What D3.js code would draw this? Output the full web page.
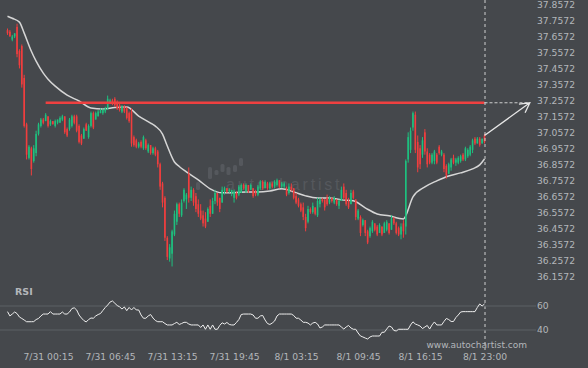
<!DOCTYPE html>
<html>
<head>
<meta charset="utf-8">
<script src="https://cdn.jsdelivr.net/npm/d3@7"></script>
<style>
  body { margin: 0; background: #45484c; }
  text { font-family: "DejaVu Sans", Verdana, sans-serif; }
</style>
</head>
<body>
<script>

// 15 minute candles, 7/30 20:00 .. 8/1 23:00
var opens = [37.70,37.69,37.64,37.66,37.72,37.57,37.60,37.40,37.11,36.90,36.96,36.88,36.93,37.05,37.10,37.14,37.13,37.16,37.11,37.13,
  37.10,37.12,37.12,37.14,37.16,37.08,37.08,37.10,37.16,37.16,37.10,37.04,37.02,37.11,37.03,37.10,37.18,37.14,37.16,37.18,
  37.18,37.19,37.21,37.24,37.26,37.27,37.25,37.23,37.19,37.22,37.21,37.18,37.19,37.03,37.01,36.97,37.00,36.96,37.01,36.94,
  36.98,36.93,36.96,36.94,36.86,36.74,36.65,36.40,36.27,36.30,36.42,36.50,36.61,36.54,36.63,36.64,36.80,36.65,36.70,36.66,
  36.61,36.57,36.54,36.52,36.50,36.60,36.55,36.63,36.68,36.65,36.62,36.69,36.71,36.69,36.68,36.65,36.68,36.67,36.68,36.73,
  36.69,36.73,36.70,36.71,36.69,36.67,36.71,36.75,36.71,36.74,36.71,36.74,36.72,36.73,36.76,36.72,36.72,36.71,36.68,36.72,
  36.71,36.66,36.64,36.61,36.59,36.53,36.50,36.58,36.56,36.59,36.54,36.61,36.64,36.64,36.65,36.62,36.65,36.62,36.64,36.60,
  36.63,36.72,36.68,36.63,36.61,36.69,36.64,36.52,36.53,36.48,36.51,36.44,36.41,36.44,36.49,36.47,36.43,36.47,36.43,36.45,
  36.49,36.45,36.52,36.49,36.46,36.42,36.49,36.47,36.89,36.95,37.09,37.17,37.00,36.96,36.92,37.06,36.94,36.92,36.87,36.88,
  36.92,36.97,36.92,36.92,36.85,36.80,36.84,36.90,36.87,36.87,36.88,36.92,36.89,36.91,36.92,36.95,37.02,36.99,37.02,36.99,
  37.04]
var highs = [37.71,37.70,37.67,37.68,37.74,37.58,37.61,37.42,37.12,36.98,36.97,36.98,37.07,37.12,37.15,37.15,37.18,37.16,37.14,37.13,
  37.14,37.14,37.16,37.17,37.16,37.09,37.15,37.17,37.17,37.17,37.11,37.05,37.09,37.12,37.11,37.19,37.19,37.19,37.20,37.21,
  37.21,37.22,37.29,37.27,37.27,37.28,37.26,37.24,37.23,37.23,37.22,37.19,37.21,37.04,37.02,37.00,37.01,37.04,37.02,36.99,
  36.98,36.97,36.97,36.95,36.87,36.75,36.66,36.41,36.36,36.45,36.57,36.62,36.62,36.64,36.71,36.68,36.84,36.72,36.71,36.68,
  36.64,36.61,36.57,36.56,36.59,36.64,36.65,36.70,36.68,36.65,36.72,36.72,36.71,36.71,36.70,36.70,36.69,36.73,36.74,36.74,
  36.74,36.73,36.74,36.71,36.70,36.73,36.76,36.76,36.76,36.75,36.75,36.75,36.76,36.77,36.76,36.75,36.75,36.72,36.74,36.74,
  36.71,36.68,36.65,36.62,36.62,36.55,36.60,36.59,36.62,36.59,36.65,36.65,36.65,36.64,36.67,36.66,36.65,36.66,36.64,36.64,
  36.72,36.74,36.70,36.65,36.70,36.70,36.64,36.58,36.54,36.52,36.51,36.45,36.47,36.51,36.49,36.48,36.49,36.47,36.50,36.51,
  36.49,36.54,36.53,36.50,36.47,36.49,36.51,36.89,37.06,37.09,37.19,37.19,37.04,36.98,37.03,37.08,36.96,36.93,36.93,36.95,
  36.93,36.98,36.95,36.93,36.86,36.87,36.90,36.92,36.90,36.91,36.92,36.93,36.97,36.96,36.98,37.02,37.03,37.03,37.03,37.02,
  37.05]
var lows = [37.67,37.66,37.63,37.65,37.53,37.46,37.34,37.09,36.89,36.89,36.79,36.87,36.91,37.04,37.09,37.11,37.13,37.09,37.10,37.11,
  37.09,37.11,37.12,37.13,37.05,37.03,37.07,37.09,37.11,37.06,36.99,36.98,37.02,37.07,37.02,37.09,37.08,37.14,37.16,37.18,
  37.17,37.18,37.20,37.24,37.23,37.22,37.20,37.19,37.18,37.18,37.14,37.12,36.97,36.97,36.96,36.96,36.96,36.95,36.95,36.93,
  36.92,36.92,36.91,36.84,36.70,36.59,36.38,36.26,36.25,36.22,36.41,36.48,36.53,36.53,36.62,36.58,36.62,36.63,36.60,36.56,
  36.53,36.51,36.47,36.46,36.50,36.53,36.55,36.61,36.60,36.56,36.62,36.67,36.68,36.68,36.66,36.62,36.64,36.66,36.68,36.70,
  36.68,36.68,36.70,36.65,36.66,36.66,36.70,36.70,36.71,36.70,36.70,36.71,36.71,36.72,36.71,36.71,36.71,36.66,36.67,36.69,
  36.64,36.61,36.59,36.56,36.51,36.44,36.49,36.55,36.55,36.54,36.53,36.59,36.62,36.57,36.60,36.61,36.62,36.61,36.60,36.58,
  36.63,36.64,36.60,36.58,36.61,36.64,36.51,36.51,36.41,36.47,36.41,36.36,36.40,36.43,36.44,36.41,36.43,36.41,36.43,36.44,
  36.42,36.45,36.48,36.42,36.41,36.39,36.40,36.42,36.87,36.93,37.07,36.93,36.81,36.83,36.90,36.92,36.84,36.86,36.86,36.86,
  36.86,36.92,36.91,36.81,36.77,36.80,36.82,36.86,36.85,36.86,36.87,36.88,36.88,36.90,36.91,36.93,36.98,36.99,36.97,36.99,
  36.99]
var closes = [37.68,37.66,37.66,37.68,37.55,37.48,37.36,37.10,36.92,36.97,36.83,36.96,37.05,37.11,37.14,37.12,37.17,37.10,37.13,37.11,
  37.13,37.14,37.15,37.16,37.06,37.04,37.14,37.16,37.12,37.07,37.00,36.99,37.08,37.07,37.10,37.18,37.09,37.18,37.19,37.20,
  37.20,37.21,37.27,37.26,37.24,37.23,37.21,37.20,37.22,37.19,37.15,37.13,36.99,36.98,36.97,36.99,36.97,37.03,36.96,36.98,
  36.93,36.96,36.92,36.86,36.72,36.62,36.40,36.28,36.34,36.44,36.55,36.61,36.55,36.62,36.70,36.67,36.65,36.70,36.62,36.58,
  36.55,36.52,36.49,36.47,36.58,36.55,36.63,36.68,36.62,36.58,36.70,36.71,36.69,36.70,36.70,36.69,36.65,36.72,36.73,36.71,
  36.73,36.69,36.73,36.66,36.67,36.72,36.75,36.71,36.75,36.71,36.74,36.72,36.75,36.76,36.72,36.74,36.74,36.67,36.72,36.70,
  36.65,36.62,36.60,36.57,36.53,36.46,36.58,36.56,36.60,36.55,36.63,36.64,36.63,36.59,36.61,36.65,36.63,36.65,36.61,36.63,
  36.70,36.65,36.61,36.59,36.68,36.65,36.53,36.57,36.43,36.51,36.43,36.37,36.46,36.50,36.45,36.42,36.48,36.42,36.49,36.50,
  36.43,36.52,36.49,36.43,36.42,36.47,36.44,36.88,37.03,37.07,37.18,36.95,36.84,36.86,37.01,36.94,36.86,36.87,36.92,36.94,
  36.87,36.93,36.94,36.83,36.79,36.86,36.89,36.87,36.89,36.90,36.91,36.89,36.96,36.95,36.97,37.01,36.99,37.02,36.98,37.02,
  37.00]

// moving average, read at some candle indexes
var maIdx = [0,2,5,7,10,12,15,17,20,25,30,35,40,45,50,55,60,62,65,67,70,72,75,80,85,90,95,100,105,110,
  115,120,125,130,135,140,145,150,155,160,166,170,175,180,185,190,195,198,200]
var maVal = [37.787,37.774,37.750,37.681,37.568,37.506,37.431,37.393,37.349,37.293,37.256,37.212,37.206,37.215,37.218,
  37.162,37.118,37.099,37.049,36.974,36.874,36.846,36.812,36.762,36.706,36.681,36.681,36.687,36.687,36.693,
  36.706,36.687,36.662,36.649,36.649,36.637,36.631,36.587,36.549,36.537,36.518,36.656,36.718,36.756,36.787,
  36.806,36.831,36.856,36.893]

// RSI, one value per candle
var rsi = [55.3,51.7,53.3,55,53.7,50.8,49.6,48.3,46.9,46.9,
  46.9,47,48.7,49.6,51.7,53.3,53.3,53.3,55.3,53.3,
  53.3,53.3,53.3,55,53.3,53.3,55,57.9,58.5,56.7,
  52.5,50,47.9,46.7,48.7,50,49.8,51.7,52.9,53.7,
  56.3,58.8,60.8,63.3,64.2,62.3,60.4,59.3,57.5,59.2,
  56.1,58.8,56.7,58.8,56.7,56.7,52.5,49.8,49.8,51.7,
  52.9,50,47.9,46.9,46.9,46.9,45.4,44.2,44.2,44.2,
  45.4,46.4,44.6,45.4,46.4,46.4,45,44.2,44.2,44.2,
  44.2,42.1,44.2,40.6,44.2,40.6,44.2,40.6,40.6,43.8,
  46,45,46.3,44.6,44.2,44.2,46.3,48.7,52.9,53.3,
  53.3,53.3,53.3,52.5,49.8,49.8,51.7,52.1,48.3,45.4,
  44.6,45.8,47.5,51.7,53.3,53.3,53.3,53.3,53.3,53.3,
  52.1,49.8,49.8,48.3,46.4,46.4,45.8,44.2,45.8,46.4,
  45,41.7,42.5,44.2,44.2,44.2,44.2,44.2,44.2,44.2,
  42.5,40.8,42.5,43.8,41.7,40.6,40.6,37.5,35,34.2,
  33.3,32.5,34.2,35,35,35,35,38.1,38.1,40.8,
  43.3,42.5,39.6,39.2,40.6,40.6,40.6,40.6,40.6,44.2,
  46.8,45,44.2,43.3,41.2,42.5,43.8,40.8,44.2,46.7,
  44.2,44.2,44.2,47.1,49.6,48.7,47.1,47.1,50.4,52.5,
  55,55.3,55.3,55.3,55.3,55.3,55.3,58.8,61.7,60,
  61.7]

var priceTicks = [37.8572,37.7572,37.6572,37.5572,37.4572,37.3572,37.2572,37.1572,37.0572,
  36.9572,36.8572,36.7572,36.6572,36.5572,36.4572,36.3572,36.2572,36.1572]
var rsiTicks = [60, 40]
var timeIdx = [17, 43, 69, 95, 121, 147, 173, 200]
var timeLabels = ["7/31 00:15","7/31 06:45","7/31 13:15","7/31 19:45","8/1 03:15","8/1 09:45","8/1 16:15","8/1 23:00"]

// resistance level and forecast arrow
var level = 37.245
var levelFrom = 16
var arrowFrom = 37.04
var arrowTo = 219

width = 588
height = 368
var lastIdx = closes.length - 1
var textColor = "#b3b6ba"
var up = "#1ec07f", down = "#f03e3e"

svg = d3.select("body")
    .append("svg")
    .attr("width", width)
    .attr("height", height)

svg.append("rect")
    .attr("width", width)
    .attr("height", height)
    .attr("fill", "#45484c")

var x = d3.scaleLinear()
    .domain([0, lastIdx])
    .range([7.5, 484.5])

var y = d3.scaleLinear()
    .domain([36.1572, 37.8572])
    .range([276.5, 5])

var yR = d3.scaleLinear()
    .domain([40, 60])
    .range([330, 306])

// watermark
var wm = svg.append("g").attr("fill", "#55585d")
var wmBars = [[198, 182, 190], [210, 167, 179], [216.5, 170, 175], [222.5, 164, 172], [228.5, 167, 175], [235, 165, 172], [241, 158, 166]]
wm.selectAll("rect")
    .data(wmBars)
    .enter().append("rect")
      .attr("x", function(d) { return d[0] - 2; })
      .attr("y", function(d) { return d[1]; })
      .attr("width", 4)
      .attr("height", function(d) { return d[2] - d[1]; })
      .attr("rx", 1.5)
wm.append("text")
    .attr("x", 226)
    .attr("y", 190)
    .attr("font-size", 16)
    .attr("letter-spacing", 2.8)
    .style("font-family", "'Liberation Sans', Arial, sans-serif")
    .text("autochartist")

// price axis labels
svg.append("g")
    .attr("transform", "translate(537,0)")
    .call(d3.axisRight(y).tickValues(priceTicks).tickSize(0).tickPadding(0).tickFormat(d3.format(".4f")))
    .call(function(g) { g.select(".domain").remove(); })
    .selectAll("text")
      .attr("fill", textColor)
      .attr("font-size", 9.2)
      .style("font-family", "'DejaVu Sans', sans-serif")

// moving average
svg.append("path")
    .datum(maIdx)
    .attr("fill", "none")
    .attr("stroke", "#d6d6d6")
    .attr("stroke-width", 1.5)
    .attr("d", d3.line()
      .x(function(d) { return x(d); })
      .y(function(d, i) { return y(maVal[i]); })
      .curve(d3.curveMonotoneX))

// candles
var idx = d3.range(closes.length)
var candles = svg.append("g")
candles.selectAll("line")
    .data(idx)
    .enter().append("line")
      .attr("x1", function(i) { return x(i); })
      .attr("x2", function(i) { return x(i); })
      .attr("y1", function(i) { return y(highs[i]); })
      .attr("y2", function(i) { return y(lows[i]); })
      .attr("stroke", function(i) { return closes[i] >= opens[i] ? up : down; })
      .attr("stroke-width", 1)
candles.selectAll("rect")
    .data(idx)
    .enter().append("rect")
      .attr("x", function(i) { return x(i) - 0.8; })
      .attr("width", 1.6)
      .attr("y", function(i) { return y(Math.max(opens[i], closes[i])); })
      .attr("height", function(i) { return Math.max(1, Math.abs(y(opens[i]) - y(closes[i]))); })
      .attr("fill", function(i) { return closes[i] >= opens[i] ? up : down; })

// resistance line
svg.append("line")
    .attr("x1", x(levelFrom))
    .attr("x2", x(lastIdx))
    .attr("y1", y(level))
    .attr("y2", y(level))
    .attr("stroke", "#ef4040")
    .attr("stroke-width", 2.5)

svg.append("line")
    .attr("x1", x(lastIdx))
    .attr("x2", x(arrowTo))
    .attr("y1", y(level))
    .attr("y2", y(level))
    .attr("stroke", "#cfcfcf")
    .attr("stroke-dasharray", "3,2")

// current time marker
svg.append("line")
    .attr("x1", x(lastIdx) + 0.5)
    .attr("x2", x(lastIdx) + 0.5)
    .attr("y1", 0)
    .attr("y2", 350)
    .attr("stroke", "#cfcfcf")
    .attr("stroke-dasharray", "3,3")

// forecast arrow
var ax1 = x(lastIdx), ay1 = y(arrowFrom), ax2 = x(arrowTo), ay2 = y(level)
var ang = Math.atan2(ay2 - ay1, ax2 - ax1)
var head = 11
svg.append("path")
    .attr("fill", "none")
    .attr("stroke", "#e6e6e6")
    .attr("stroke-width", 1.3)
    .attr("d", "M" + ax1 + "," + ay1 + "L" + ax2 + "," + ay2 +
      "M" + (ax2 - head * Math.cos(ang - 0.5)) + "," + (ay2 - head * Math.sin(ang - 0.5)) +
      "L" + ax2 + "," + ay2 +
      "L" + (ax2 - head * Math.cos(ang + 0.5)) + "," + (ay2 - head * Math.sin(ang + 0.5)))

// RSI panel
svg.selectAll("line.rsigrid")
    .data(rsiTicks)
    .enter().append("line")
      .attr("class", "rsigrid")
      .attr("x1", 0)
      .attr("x2", 536)
      .attr("y1", function(d) { return yR(d); })
      .attr("y2", function(d) { return yR(d); })
      .attr("stroke", "#5d6064")

svg.append("g")
    .attr("transform", "translate(537,0)")
    .call(d3.axisRight(yR).tickValues(rsiTicks).tickSize(0).tickPadding(0))
    .call(function(g) { g.select(".domain").remove(); })
    .selectAll("text")
      .attr("fill", textColor)
      .attr("font-size", 9.2)
      .style("font-family", "'DejaVu Sans', sans-serif")

svg.append("path")
    .datum(rsi)
    .attr("fill", "none")
    .attr("stroke", "#eeeeee")
    .attr("stroke-width", 1)
    .attr("d", d3.line()
      .x(function(d, i) { return x(i); })
      .y(function(d) { return yR(d); }))

svg.append("text")
    .attr("x", 15)
    .attr("y", 294.5)
    .attr("fill", textColor)
    .attr("font-size", 9.5)
    .attr("font-weight", "bold")
    .text("RSI")

// time axis
svg.append("g")
    .attr("transform", "translate(0,353)")
    .call(d3.axisBottom(x).tickValues(timeIdx).tickSize(0).tickPadding(0)
      .tickFormat(function(d, i) { return timeLabels[i]; }))
    .call(function(g) { g.select(".domain").remove(); })
    .selectAll("text")
      .attr("fill", textColor)
      .attr("font-size", 9.2)
      .style("font-family", "'DejaVu Sans', sans-serif")

svg.append("text")
    .attr("x", 527)
    .attr("y", 348)
    .attr("text-anchor", "end")
    .attr("fill", textColor)
    .attr("font-size", 9)
    .text("www.autochartist.com")

</script>
</body>
</html>
